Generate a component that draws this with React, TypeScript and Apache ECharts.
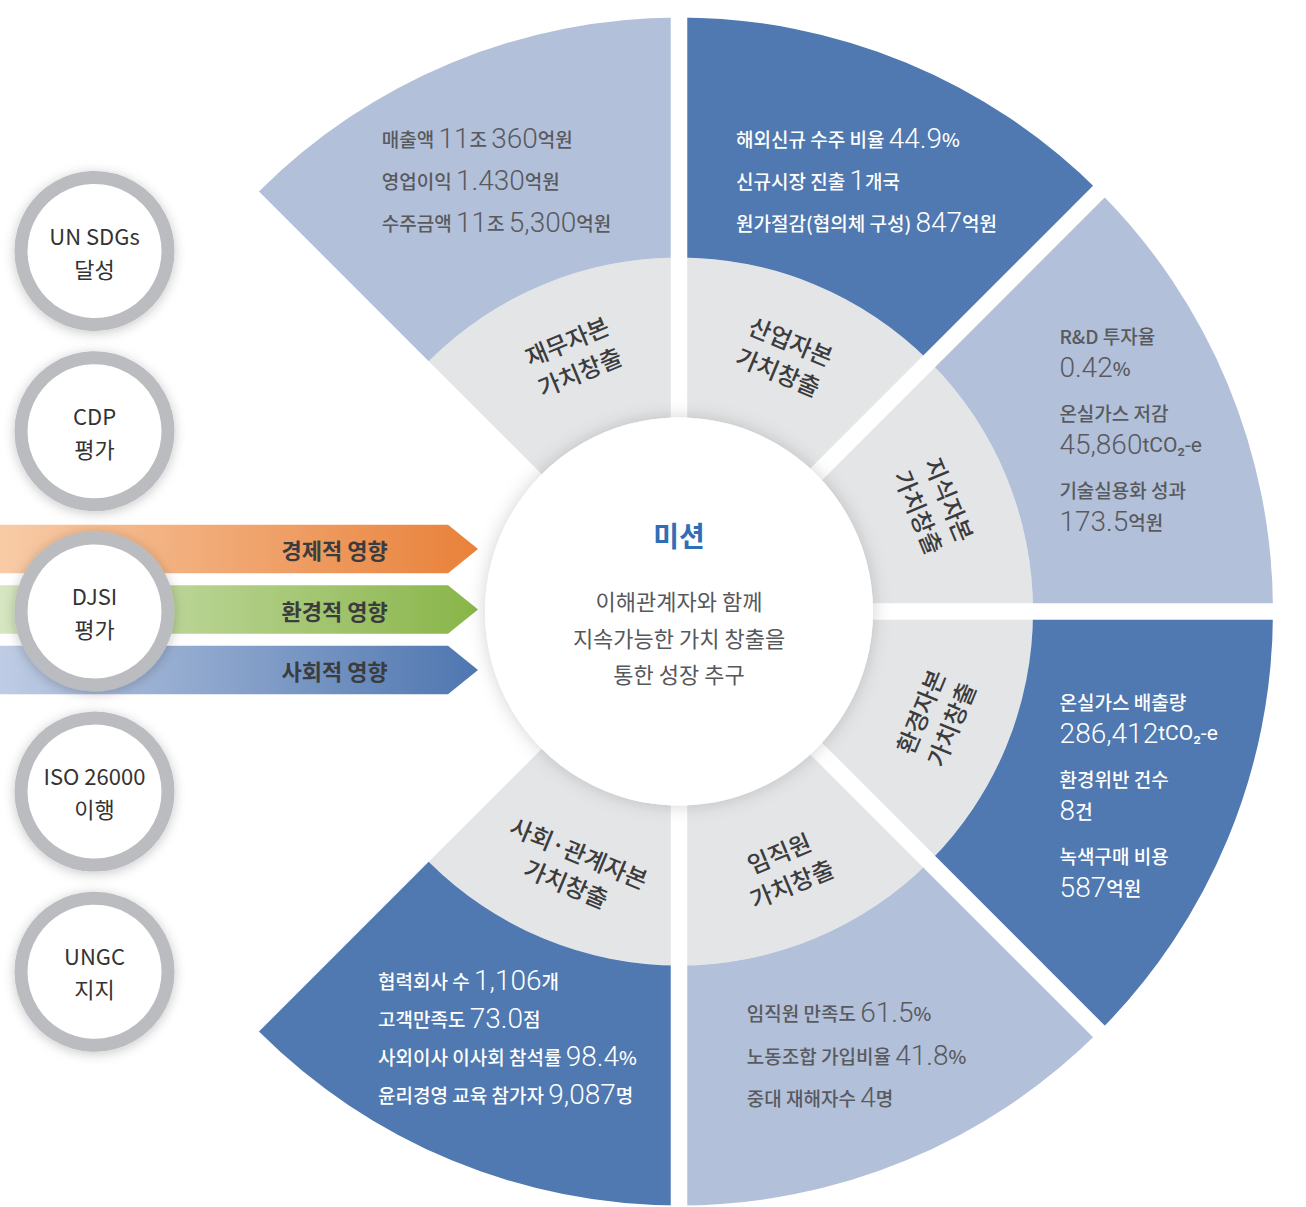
import React, { useEffect, useRef } from 'react';
import * as echarts from 'echarts';

// ---------- data ----------
const capitalNames = ['재무자본\n가치창출', '산업자본\n가치창출', '지식자본\n가치창출', '환경자본\n가치창출', '임직원\n가치창출', '사회·관계자본\n가치창출'];
const capitalShares = [1, 1, 1, 1, 1, 1];
const emptyShare = 2; // open quarter on the left
const capitalTone = ['light', 'dark', 'light', 'dark', 'light', 'dark'];

const financialLines = ['{l|매출액 }{n|11}{u|조 }{n|360}{u|억원}', '{l|영업이익 }{n|1.430}{u|억원}', '{l|수주금액 }{n|11}{u|조 }{n|5,300}{u|억원}'];
const industrialLines = ['{l|해외신규 수주 비율 }{n|44.9}{u|%}', '{l|신규시장 진출 }{n|1}{u|개국}', '{l|원가절감(협의체 구성) }{n|847}{u|억원}'];
const intellectualLines = ['{l|R&D 투자율}', '{n|0.42}{u|%}', '{s| }', '{l|온실가스 저감}', '{n|45,860}{c|tCO₂-e}', '{s| }', '{l|기술실용화 성과}', '{n|173.5}{u|억원}'];
const environmentLines = ['{l|온실가스 배출량}', '{n|286,412}{c|tCO₂-e}', '{s| }', '{l|환경위반 건수}', '{n|8}{u|건}', '{s| }', '{l|녹색구매 비용}', '{n|587}{u|억원}'];
const employeeLines = ['{l|임직원 만족도 }{n|61.5}{u|%}', '{l|노동조합 가입비율 }{n|41.8}{u|%}', '{l|중대 재해자수 }{n|4}{u|명}'];
const socialLines = ['{l|협력회사 수 }{n|1,106}{u|개}', '{l|고객만족도 }{n|73.0}{u|점}', '{l|사외이사 이사회 참석률 }{n|98.4}{u|%}', '{l|윤리경영 교육 참가자 }{n|9,087}{u|명}'];
const outerLines = [financialLines, industrialLines, intellectualLines, environmentLines, employeeLines, socialLines];
const outerLineHeights = [42, 42, 32, 32, 42.5, 38];
const outerPaddings = [
  [20, 0, 0, 0],
  [20, 0, 0, 10],
  [0, 0, 0, 22],
  [0, 0, 0, 38],
  [6, 10, 0, 0],
  [0, 0, 30, 22],
];

const missionTitle = '미션';
const missionText = ['이해관계자와 함께', '지속가능한 가치 창출을', '통한 성장 추구'];

const impactNames = ['경제적 영향', '환경적 영향', '사회적 영향'];
const impactLengths = [100, 100, 100];
const impactColors = [
  ['#f8cba6', '#e9813a'],
  ['#d6e6c2', '#89b548'],
  ['#bfcce4', '#4e76b0'],
];

const frameworkNames = ['UN SDGs\n달성', 'CDP\n평가', 'DJSI\n평가', 'ISO 26000\n이행', 'UNGC\n지지'];

// ---------- layout constants ----------
const CX = 679;
const CY = 611.5;
const R_CENTER = 194;
const R_INNER = 354;
const R_OUTER = 594;
const GAP = 16.5;
const gapAngles = [90, 45, 0, -45, -90];

const KR = '"Noto Sans CJK KR", "Noto Sans", sans-serif';
const NUM = 'Roboto, "Noto Sans", sans-serif';

const LIGHT = '#b3c0da';
const DARK = '#4f79b0';
const GREY = '#e4e5e7';

function makeRich(lh: number) {
  return {
    l: { fontSize: 19, fontFamily: KR, fontWeight: 500, lineHeight: lh, align: 'left' },
    n: { fontSize: 28, fontFamily: NUM, fontWeight: 300, lineHeight: lh, align: 'left' },
    u: { fontSize: 19, fontFamily: KR, fontWeight: 500, lineHeight: lh, align: 'left' },
    c: { fontSize: 21, fontFamily: NUM, fontWeight: 400, lineHeight: lh, align: 'left' },
    s: { fontSize: 4, lineHeight: 13, align: 'left' },
  };
}

export default function App() {
  const ref = useRef<HTMLDivElement>(null);
  useEffect(() => {
    if (!ref.current) return;
    const chart = echarts.init(ref.current, null, { renderer: 'svg' });

    const innerData: any[] = capitalNames.map((n, i) => ({ name: n, value: capitalShares[i] }));
    innerData.push({ name: '', value: emptyShare, itemStyle: { color: 'rgba(0,0,0,0)' }, label: { show: false } });

    const outerData: any[] = capitalNames.map((n, i) => ({
      name: n,
      value: capitalShares[i],
      itemStyle: { color: capitalTone[i] === 'light' ? LIGHT : DARK },
      label: {
        formatter: outerLines[i].join('\n'),
        color: capitalTone[i] === 'light' ? '#585a5e' : '#ffffff',
        padding: outerPaddings[i],
        rich: makeRich(outerLineHeights[i]),
      },
    }));
    outerData.push({ name: '', value: emptyShare, itemStyle: { color: 'rgba(0,0,0,0)' }, label: { show: false } });

    const gapLines = gapAngles.map((a) => {
      const rad = (a * Math.PI) / 180;
      return {
        type: 'line',
        z: 50,
        silent: true,
        shape: { x1: CX, y1: CY, x2: CX + Math.cos(rad) * (R_OUTER + 10), y2: CY - Math.sin(rad) * (R_OUTER + 10) },
        style: { stroke: '#ffffff', lineWidth: GAP },
      };
    });

    const option: any = {
      animation: false,
      backgroundColor: '#ffffff',
      grid: [
        { left: 0, top: 518.75, width: 478, height: 181.5, show: false },
        { left: 0, top: 160.9, width: 189, height: 901, show: false },
      ],
      xAxis: [
        { type: 'value', gridIndex: 0, min: 0, max: 100, show: false },
        { type: 'value', gridIndex: 1, min: 0, max: 1, show: false },
      ],
      yAxis: [
        { type: 'category', gridIndex: 0, data: impactNames, inverse: true, show: false },
        { type: 'category', gridIndex: 1, data: frameworkNames, inverse: true, show: false },
      ],
      graphic: { elements: gapLines },
      series: [
        {
          type: 'pie',
          name: 'capitals',
          z: 2,
          silent: true,
          center: [CX, CY],
          radius: [R_CENTER, R_INNER],
          startAngle: 135,
          clockwise: true,
          avoidLabelOverlap: false,
          itemStyle: { color: GREY },
          label: {
            show: true,
            position: 'inside',
            rotate: 'tangential',
            fontFamily: KR,
            fontSize: 24,
            fontWeight: 500,
            lineHeight: 33,
            color: '#3b3c3e',
          },
          labelLine: { show: false },
          emphasis: { disabled: true },
          data: innerData,
        },
        {
          type: 'pie',
          name: 'results',
          z: 2,
          silent: true,
          center: [CX, CY],
          radius: [R_INNER, R_OUTER],
          startAngle: 135,
          clockwise: true,
          avoidLabelOverlap: false,
          label: { show: true, position: 'inside', rotate: 0, fontSize: 19, fontFamily: KR },
          labelLine: { show: false },
          emphasis: { disabled: true },
          data: outerData,
        },
        {
          type: 'pie',
          name: 'mission',
          z: 60,
          silent: true,
          center: [CX, CY],
          radius: [0, R_CENTER],
          itemStyle: { color: '#ffffff', shadowBlur: 18, shadowColor: 'rgba(0,0,0,0.18)' },
          label: {
            show: true,
            position: 'center',
            padding: [0, 0, 16, 0],
            formatter: ['{t|' + missionTitle + '}', '{g| }', ...missionText.map((t) => '{b|' + t + '}')].join('\n'),
            rich: {
              t: { fontSize: 28, fontWeight: 700, fontFamily: KR, color: '#2f6db5', lineHeight: 40 },
              g: { fontSize: 4, lineHeight: 26.75 },
              b: { fontSize: 22, fontWeight: 400, fontFamily: KR, color: '#56585c', lineHeight: 36.5 },
            },
          },
          labelLine: { show: false },
          emphasis: { disabled: true },
          data: [{ name: missionTitle, value: 1 }],
        },
        {
          type: 'custom',
          name: 'impacts',
          z: 5,
          silent: true,
          xAxisIndex: 0,
          yAxisIndex: 0,
          data: impactLengths.map((v, i) => [v, i]),
          renderItem: (params: any, api: any) => {
            const i = api.value(1);
            const end = api.coord([api.value(0), i]);
            const start = api.coord([0, i]);
            const h = api.size([0, 1])[1] * 0.8;
            const head = 30;
            const y = end[1];
            const textX = start[0] + (end[0] - start[0]) * 0.7;
            const cols = impactColors[params.dataIndex];
            return {
              type: 'group',
              children: [
                {
                  type: 'polygon',
                  shape: {
                    points: [
                      [start[0], y - h / 2],
                      [end[0] - head, y - h / 2],
                      [end[0], y],
                      [end[0] - head, y + h / 2],
                      [start[0], y + h / 2],
                    ],
                  },
                  style: {
                    fill: new echarts.graphic.LinearGradient(0, 0, 1, 0, [
                      { offset: 0, color: cols[0] },
                      { offset: 1, color: cols[1] },
                    ]),
                  },
                },
                {
                  type: 'text',
                  style: {
                    text: impactNames[params.dataIndex],
                    x: textX,
                    y: y,
                    align: 'center',
                    verticalAlign: 'middle',
                    fontSize: 22,
                    fontWeight: 700,
                    fontFamily: KR,
                    fill: '#3b3c3e',
                  },
                },
              ],
            };
          },
        },
        {
          type: 'scatter',
          name: 'frameworks',
          z: 8,
          silent: true,
          xAxisIndex: 1,
          yAxisIndex: 1,
          symbol: 'circle',
          symbolSize: 147,
          itemStyle: {
            color: '#ffffff',
            borderColor: '#babcc0',
            borderWidth: 13,
            shadowBlur: 12,
            shadowColor: 'rgba(0,0,0,0.22)',
            shadowOffsetY: 2,
            opacity: 1,
          },
          label: {
            show: true,
            position: 'inside',
            formatter: (p: any) => frameworkNames[p.dataIndex],
            fontFamily: KR,
            fontSize: 22,
            lineHeight: 33,
            color: '#333333',
          },
          emphasis: { disabled: true },
          data: frameworkNames.map((_, i) => [0.5, i]),
        },
      ],
    };
    chart.setOption(option);
    return () => chart.dispose();
  }, []);
  return <div ref={ref} style={{ position: 'absolute', left: 0, top: 0, width: 1306, height: 1207 }} />;
}
